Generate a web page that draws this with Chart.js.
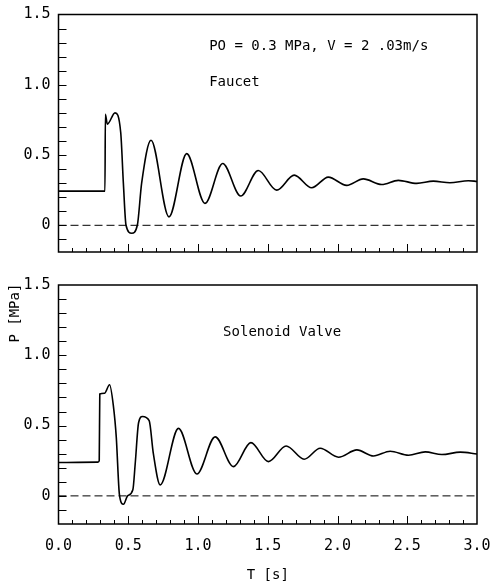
<!DOCTYPE html>
<html>
<head>
<meta charset="utf-8">
<script src="https://cdn.jsdelivr.net/npm/chart.js@4.4.1/dist/chart.umd.min.js"></script>
<style>
  html, body { margin: 0; padding: 0; background: #fff; }
  #wrap { position: relative; width: 491px; height: 584px; }
  canvas { position: absolute; left: 0; }
  #topChart { top: 0; }
  #botChart { top: 270px; }
</style>
</head>
<body>
<div id="wrap">
  <canvas id="topChart" width="491" height="260"></canvas>
  <canvas id="botChart" width="491" height="314"></canvas>
</div>
<script>
// faucet (top panel), time in s, pressure in MPa
var faucetT = [0, 0.333, 0.336, 0.35, 0.405, 0.446, 0.465, 0.484, 0.525, 0.565, 0.596, 0.663, 0.792, 0.919,
  1.05, 1.177, 1.306, 1.432, 1.564, 1.69, 1.815, 1.934, 2.066, 2.185, 2.317, 2.436, 2.568, 2.687, 2.806, 2.938, 3.0];
var faucetP = [0.243, 0.243, 0.79, 0.72, 0.80, 0.66, 0.30, 0.0, -0.057, 0.0, 0.30, 0.605, 0.06, 0.51,
  0.156, 0.44, 0.208, 0.39, 0.25, 0.357, 0.267, 0.343, 0.284, 0.33, 0.29, 0.32, 0.298, 0.314, 0.303, 0.317, 0.312];

// solenoid valve (bottom panel)
var solenoidT = [0, 0.28, 0.292, 0.296, 0.33, 0.366, 0.394, 0.414, 0.437, 0.466, 0.495, 0.533, 0.55, 0.574, 0.602, 0.65,
  0.68, 0.729, 0.86, 0.992, 1.123, 1.254, 1.379, 1.505, 1.632, 1.761, 1.876, 2.007, 2.139, 2.258, 2.378, 2.509, 2.629, 2.748, 2.88, 3.0];
var solenoidP = [0.237, 0.24, 0.25, 0.725, 0.73, 0.79, 0.635, 0.42, 0.007, -0.06, 0.0, 0.043, 0.23, 0.52, 0.565, 0.535,
  0.30, 0.078, 0.48, 0.156, 0.42, 0.208, 0.379, 0.244, 0.355, 0.261, 0.339, 0.275, 0.327, 0.284, 0.318, 0.289, 0.313, 0.294, 0.311, 0.298];

var zeroT = [0, 3];
var zeroP = [0, 0];

var xTickVals = [0, 0.5, 1.0, 1.5, 2.0, 2.5, 3.0];
var yTickVals = [0, 0.5, 1.0, 1.5];

var FONT = '"DejaVu Sans Mono", "Liberation Mono", monospace';

function pts(xs, ys) {
  return xs.map(function(x, i) { return {x: x, y: ys[i]}; });
}

// frame, inward ticks and the panel notes
function framePlugin(notes, yLabel) {
  return {
    id: 'frame',
    afterDatasetsDraw: function(chart) {
      var ctx = chart.ctx, a = chart.chartArea;
      var xs = chart.scales.x, ys = chart.scales.y;
      ctx.save();
      ctx.strokeStyle = '#000';
      ctx.lineWidth = 1;
      ctx.beginPath();
      for (var i = -1; i < 15; i++) {
        var v = i / 10;
        if (v <= ys.min || v >= ys.max) continue;
        var py = Math.round(ys.getPixelForValue(v)) + 0.5;
        ctx.moveTo(a.left, py);
        ctx.lineTo(a.left + 8, py);
      }
      for (var j = 1; j < 30; j++) {
        var px = Math.round(xs.getPixelForValue(j / 10)) + 0.5;
        var len = (j % 5 == 0) ? 8 : 4;
        ctx.moveTo(px, a.bottom);
        ctx.lineTo(px, a.bottom - len);
      }
      ctx.stroke();
      ctx.lineWidth = 1.5;
      ctx.strokeRect(a.left, a.top, a.right - a.left, a.bottom - a.top);

      ctx.fillStyle = '#000';
      ctx.font = '14px ' + FONT;
      ctx.textBaseline = 'middle';
      ctx.textAlign = 'left';
      notes.forEach(function(n) {
        ctx.fillText(n.text, xs.getPixelForValue(n.t), ys.getPixelForValue(n.p));
      });
      if (yLabel) {
        ctx.translate(15, ys.getPixelForValue(1.3));
        ctx.rotate(-Math.PI / 2);
        ctx.textAlign = 'center';
        ctx.fillText(yLabel, 0, 0);
      }
      ctx.restore();
    }
  };
}

function makeChart(id, t, p, yMin, bottom, notes, yLabel) {
  return new Chart(document.getElementById(id), {
    type: 'line',
    data: {
      datasets: [{
        data: pts(t, p),
        borderColor: '#000',
        borderWidth: 1.6,
        pointRadius: 0,
        cubicInterpolationMode: 'monotone'
      }, {
        data: pts(zeroT, zeroP),
        borderColor: '#000',
        borderWidth: 1,
        borderDash: [8, 4],
        pointRadius: 0
      }]
    },
    options: {
      responsive: false,
      animation: false,
      events: [],
      layout: { padding: bottom ? {left: 0, top: 15, right: 14, bottom: 0} : {left: 0, top: 14.5, right: 14, bottom: 8} },
      plugins: { legend: { display: false }, tooltip: { enabled: false } },
      scales: {
        x: {
          type: 'linear', min: 0, max: 3,
          afterBuildTicks: function(s) { s.ticks = xTickVals.map(function(v) { return {value: v}; }); },
          afterFit: function(s) {
            s.height = bottom ? 60 : 0;
            s.paddingLeft = 0; s.paddingRight = 0;
          },
          grid: { display: false, drawTicks: false },
          border: { display: false },
          ticks: {
            display: bottom, color: '#000', padding: 13, maxRotation: 0,
            font: { family: FONT, size: 15 },
            callback: function(v) { return v.toFixed(1); }
          },
          title: {
            display: bottom, text: 'T [s]', color: '#000', padding: 0,
            font: { family: FONT, size: 14 }
          }
        },
        y: {
          type: 'linear', min: yMin, max: 1.5,
          afterBuildTicks: function(s) { s.ticks = yTickVals.map(function(v) { return {value: v}; }); },
          afterFit: function(s) {
            s.width = 58.5;
            s.paddingTop = 0; s.paddingBottom = 0;
          },
          grid: { display: false, drawTicks: false },
          border: { display: false },
          ticks: {
            color: '#000', padding: 8,
            font: { family: FONT, size: 15 },
            callback: function(v) { return v == 0 ? '0' : v.toFixed(1); }
          }
        }
      }
    },
    plugins: [framePlugin(notes, yLabel)]
  });
}

makeChart('topChart', faucetT, faucetP, -0.19, false, [
  {text: 'PO = 0.3 MPa, V = 2 .03m/s', t: 1.08, p: 1.27},
  {text: 'Faucet', t: 1.08, p: 1.02}
], null);

makeChart('botChart', solenoidT, solenoidP, -0.2, true, [
  {text: 'Solenoid Valve', t: 1.18, p: 1.166}
], 'P [MPa]');
</script>
</body>
</html>
